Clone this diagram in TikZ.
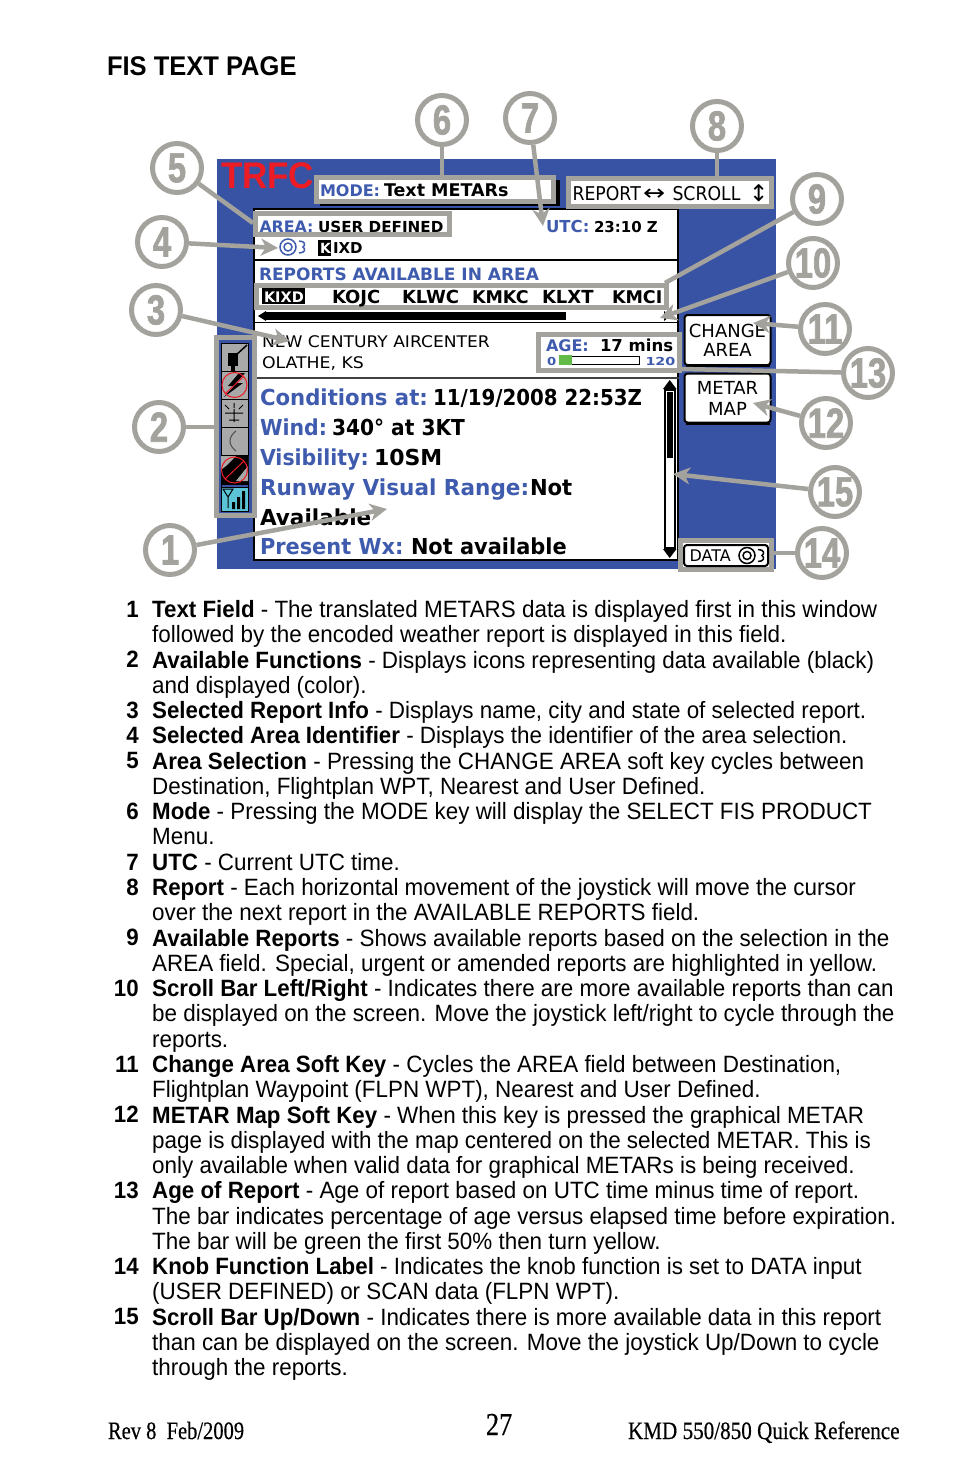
\documentclass[tikz,border=0pt]{standalone}
\usepackage{fontspec}
\setmainfont[FakeStretch=0.95,BoldFeatures={FakeStretch=0.945}]{Liberation Sans}
\newfontfamily\lcd{DejaVu Sans}
\newfontfamily\foot[FakeBold=0.4]{Liberation Serif}
\newfontfamily\cfont[FakeStretch=0.78,BoldFeatures={FakeStretch=0.78,FakeBold=1.6}]{Liberation Sans}
\usetikzlibrary{arrows.meta}
\definecolor{callgray}{HTML}{A3A29D}
\definecolor{panelblue}{HTML}{3953A4}
\definecolor{lcdblue}{HTML}{3F5BAE}
\definecolor{trfcred}{HTML}{ED1C24}
\definecolor{iconbg}{HTML}{A9A9A9}
\definecolor{sigcyan}{HTML}{5BC4D6}
\definecolor{agegreen}{HTML}{62BB46}
\newcommand{\fs}[1]{\fontsize{#1}{#1}\selectfont}
\newcommand{\fitx}[2]{\scalebox{#1}[1]{#2}}
\newcommand{\cnum}[1]{{\cfont\bfseries\fontsize{42}{42}\selectfont #1}}
\newcommand{\legenditem}[3]{%
  \node[legnum] (n#1) at (139,#2-0.7) {#1};
  \node[legbody] (b#1) at (152,#2-18.39) {\strut #3};}
\tikzset{
  x=1pt,y=-1pt,
  tt/.style={anchor=base west,inner sep=0pt,outer sep=0pt},
  legnum/.style={anchor=base east,inner sep=0pt,font=\fontsize{23.6}{25.27}\selectfont\bfseries},
  legbody/.style={anchor=north west,inner sep=0pt,align=left,font=\fontsize{23.6}{25.27}\selectfont},
  callcircle/.style={circle,draw=callgray,line width=5pt,fill=white,minimum size=49pt,inner sep=0pt,outer sep=2.5pt,text=callgray},
  callbox/.style={draw=callgray,line width=5pt,inner sep=0pt,outer sep=0pt},
  softkey/.style={draw=black,fill=white,line width=2pt,rounded corners=3pt,inner sep=0pt,outer sep=0pt,align=center},
  conn/.style={draw=callgray,line width=4.5pt},
  tipconn/.style={conn,-{Stealth[length=17pt,width=17pt,inset=5pt]}},
}
\begin{document}
\begin{tikzpicture}
\useasboundingbox (0,0) rectangle (954,1475);
\fill[white] (0,0) rectangle (954,1475);
\node[tt,font=\fontsize{27}{27}\selectfont\bfseries] (title) at (107,75) {FIS TEXT PAGE};

% panel
\fill[panelblue] (217,159) rectangle (776,569);
\fill[white] (254,209) rectangle (678,560);
\draw[black,line width=2pt] (678,209) -- (254,209) -- (254,560) -- (678,560) -- (678,209);
\draw[black,line width=1.5pt] (255,260) -- (678,260);
\draw[black!75,line width=2pt] (257,378) -- (679,378);
\node[tt,text=trfcred,font=\fontsize{37}{37}\selectfont\bfseries] (trfc) at (221,188) {TRFC};

% mode
\fill[black] (320,180) rectangle (560,206);
\node[callbox,fill=white,minimum width=237pt,minimum height=24pt] (modebox) at (435,189) {};
\node[tt,text=lcdblue,font=\lcd\bfseries\fs{16}] (lmode) at (320,196) {MODE:};
\node[tt,font=\lcd\bfseries\fs{17.5}] (vmode) at (384,196) {Text METARs};
\node[callbox,fill=white,minimum width=203pt,minimum height=28pt] (reportbox) at (670,192.5) {};
\node[tt,font=\lcd\fs{19}] (lreport) at (572.5,200.5) {\fitx{0.91}{REPORT}};
\node[tt,font=\lcd\fs{22}] (larrow) at (643,200.5) {\fitx{1.2}{↔}};
\node[tt,font=\lcd\fs{19}] (lscroll) at (672.5,200.5) {\fitx{0.91}{SCROLL}};
\node[tt,font=\lcd\fs{23}] (lud) at (749,201) {↕};
\node[tt,text=lcdblue,font=\lcd\bfseries\fs{16.5}] (lutc) at (546,232) {UTC:};
\node[tt,font=\lcd\bfseries\fs{15}] (vutc) at (594,232) {23:10 Z};
% knob icon
\draw[lcdblue,line width=1.5pt] (288,247) circle (8) (288,247) circle (4);
\draw[lcdblue,line width=1.5pt] (299,241) .. controls (305,241) and (306,245) .. (303,247) .. controls (306,249) and (305,253) .. (299,253);
\fill[black] (318,240) rectangle (331,256);
\node[tt,text=white,font=\lcd\bfseries\fs{14}] (kk) at (320,253) {K};
\node[tt,font=\lcd\bfseries\fs{15}] (ixd) at (333,253) {IXD};
\node[tt,text=lcdblue,font=\lcd\bfseries\fs{17}] (lavail) at (259,280) {REPORTS AVAILABLE IN AREA};
% reports
\node[callbox,minimum width=410pt,minimum height=22pt] (reportsbox) at (461,296.5) {};
\fill[black] (262,288) rectangle (305,304);
\node[tt,text=white,font=\lcd\bfseries\fs{14.5}] (k1) at (264,302) {KIXD};
\node[tt,font=\lcd\bfseries\fs{18}] (k2) at (332,303) {KOJC};
\node[tt,font=\lcd\bfseries\fs{18}] (k3) at (402,303) {KLWC};
\node[tt,font=\lcd\bfseries\fs{17.5}] (k4) at (472,303) {KMKC};
\node[tt,font=\lcd\bfseries\fs{18}] (k5) at (542,303) {KLXT};
\node[tt,font=\lcd\bfseries\fs{17.5}] (k6) at (612,303) {KMCI};
% horizontal scroll bar
\fill[black] (266,312) rectangle (566,320);
\fill[black] (258,316) -- (266,311) -- (266,321) -- cycle;
\fill[black] (670,316) -- (664,311) -- (664,321) -- cycle;
\draw[black,line width=1.5pt] (255,322.5) -- (678,322.5);
% selected report
\node[tt,font=\lcd\fs{16}] (name) at (262,347) {\fitx{1.07}{NEW CENTURY AIRCENTER}};
\node[tt,font=\lcd\fs{16}] (city) at (262,368.5) {\fitx{1.08}{OLATHE, KS}};
% age
\fill[white] (536,332) rectangle (682,373);
\node[callbox,minimum width=141pt,minimum height=36pt] (agebox) at (609,352.5) {};
\node[tt,text=lcdblue,font=\lcd\bfseries\fs{16}] (lage) at (546,351) {AGE:};
\node[tt,font=\lcd\bfseries\fs{16.5}] (vage) at (600,351) {17 mins};
\node[tt,text=lcdblue,font=\lcd\bfseries\fs{11}] (a0) at (547,365) {\fitx{1.2}{0}};
\draw[black,line width=1pt] (559,356) rectangle (639,364);
\fill[agegreen] (559,355) rectangle (572,364.5);
\node[tt,text=lcdblue,font=\lcd\bfseries\fs{11}] (a120) at (645.5,365) {\fitx{1.3}{120}};
% data field
\node[tt,text=lcdblue,font=\lcd\bfseries\fs{22}] (l1) at (260,405) {\fitx{0.965}{Conditions at:}};
\node[tt,font=\lcd\bfseries\fs{22}] (v1) at (433,405) {\fitx{0.9}{11/19/2008 22:53Z}};
\node[tt,text=lcdblue,font=\lcd\bfseries\fs{22}] (l2) at (260,435) {\fitx{0.93}{Wind:}};
\node[tt,font=\lcd\bfseries\fs{22}] (v2) at (332,435) {\fitx{0.917}{340° at 3KT}};
\node[tt,text=lcdblue,font=\lcd\bfseries\fs{22}] (l3) at (260,465) {\fitx{0.93}{Visibility:}};
\node[tt,font=\lcd\bfseries\fs{22}] (v3) at (374,465) {10SM};
\node[tt,text=lcdblue,font=\lcd\bfseries\fs{22}] (l4) at (260,495) {\fitx{0.98}{Runway Visual Range:}};
\node[tt,font=\lcd\bfseries\fs{22}] (v4) at (530,495) {\fitx{0.96}{Not}};
\node[tt,font=\lcd\bfseries\fs{22}] (v4b) at (260,525) {\fitx{0.98}{Available}};
\node[tt,text=lcdblue,font=\lcd\bfseries\fs{22}] (l6) at (260,554) {\fitx{0.95}{Present Wx:}};
\node[tt,font=\lcd\bfseries\fs{22}] (v6) at (411,554) {\fitx{0.95}{Not available}};
% vertical scroll bar
\draw[black,line width=2pt] (664.5,390) rectangle (675,548);
\fill[black] (669.7,380) -- (663,389) -- (676.5,389) -- cycle;
\fill[black] (669.7,558) -- (663,549) -- (676.5,549) -- cycle;
\fill[black] (667,392) rectangle (673,458);
\coordinate (scrollv) at (673,474);
% soft keys
\node[softkey,minimum width=86pt,minimum height=50pt,font=\lcd\fs{18},text depth=0pt] (change) at (727.5,340) {CHANGE\\[1pt]AREA};
\draw[black,line width=2pt] (686,365.5) -- (770,365.5);
\node[softkey,minimum width=86pt,minimum height=49pt,font=\lcd\fs{18}] (metar) at (727.5,398) {METAR\\[3pt]MAP};
\draw[black,line width=2pt] (686,423.5) -- (770,423.5);
\node[callbox,fill=white,minimum width=91pt,minimum height=29pt] (databox) at (726,555) {};
\draw[softkey] (684,545) rectangle (768,566);
\node[tt,font=\lcd\fs{16}] (data) at (689.5,561.7) {DATA};
\draw[black,line width=1.5pt] (747,555.5) circle (8) (747,555.5) circle (4);
\draw[black,line width=1.5pt] (758,549.5) .. controls (764,549.5) and (765,553.5) .. (762,555.5) .. controls (765,557.5) and (764,561.5) .. (758,561.5);
% area box
\fill[white] (257,214) rectangle (449,234);
\node[tt,text=lcdblue,font=\lcd\bfseries\fs{15.8}] (larea) at (259.5,232) {AREA:};
\node[tt,font=\lcd\bfseries\fs{15.2}] (varea) at (318,232) {USER DEFINED};
\node[callbox,minimum width=194pt,minimum height=21pt] (areabox) at (352.5,224) {};
% functions column
\fill[panelblue] (217,338) rectangle (254,515);
\fill[iconbg] (221,343) rectangle (248,455);
\foreach \yy in {343,371,399,427,455} \draw[black,line width=1pt] (221,\yy) -- (248,\yy);
\draw[black,line width=1pt] (221,343) rectangle (248,511);
\fill[black] (228,353) rectangle (238,366);
\fill[black] (231,366) rectangle (235,371);
\draw[black,line width=1.5pt] (235,356) -- (247,345);
\fill[black] (239,373) -- (228,386) -- (234,386) -- (224,397) -- (243,383) -- (236,383) -- (245,373) -- cycle;
\draw[trfcred,line width=1pt] (234.5,385) circle (12.5) (225,394) -- (244,376);
\draw[black,line width=1pt] (225,405) -- (229,409) (243,405) -- (239,409) (234,403) -- (234,408) (225,413) -- (243,413) (234,409) -- (234,422) (229,420) -- (239,420);
\draw[black!70,line width=1pt] (236,431) .. controls (228,437) and (228,445) .. (236,451);
\fill[black] (221,455) rectangle (248,485);
\fill[iconbg] (221,456) -- (236,456) -- (226,466) -- (221,470) -- cycle;
\fill[iconbg] (248,456) -- (248,466) -- (236,481) -- (248,481) -- (248,456) -- cycle;
\draw[trfcred,line width=1pt] (234.5,470) circle (13) (225,479) -- (244,461);
\fill[sigcyan] (221,487) rectangle (248,511);
\draw[black,line width=1pt] (221,487) rectangle (248,511);
\draw[black,line width=1pt] (223,489) -- (233,489) -- (228,497) -- cycle (228,497) -- (228,508);
\fill[black] (232,502) rectangle (235,509) (237,497) rectangle (240,509) (242,491) rectangle (245,509);
\node[callbox,minimum width=38pt,minimum height=178pt] (funcbox) at (235.5,426.5) {};

% callouts
\node[callcircle] (c1) at (170,550) {\cnum{1}};
\node[callcircle] (c2) at (159,427) {\cnum{2}};
\node[callcircle] (c3) at (156,310) {\cnum{3}};
\node[callcircle] (c4) at (162,242) {\cnum{4}};
\node[callcircle] (c5) at (177,168) {\cnum{5}};
\node[callcircle] (c6) at (442,120) {\cnum{6}};
\node[callcircle] (c7) at (530,118) {\cnum{7}};
\node[callcircle] (c8) at (717,126) {\cnum{8}};
\node[callcircle] (c9) at (817,199) {\cnum{9}};
\node[callcircle] (c10) at (813,263) {\cnum{10}};
\node[callcircle] (c11) at (825,329) {\cnum{11}};
\node[callcircle] (c12) at (826,423) {\cnum{12}};
\node[callcircle] (c13) at (868,373) {\cnum{13}};
\node[callcircle] (c14) at (822,553) {\cnum{14}};
\node[callcircle] (c15) at (835,492) {\cnum{15}};

\coordinate (tip1) at (387,509);
\coordinate (tip3) at (290,341);
\coordinate (tip4) at (278,248);
\coordinate (tip7) at (543,226);
\coordinate (tip10) at (660,318);
\coordinate (tip11) at (753,323);
\coordinate (tip12) at (753,403);
\coordinate (end5) at (253,223);
\coordinate (end9) at (665,283);
\coordinate (end13) at (682,369);

\draw[tipconn] (c1) -- (tip1);
\draw[conn] (c2) -- (funcbox.west |- c2);
\draw[tipconn] (c3) -- (tip3);
\draw[tipconn] (c4) -- (tip4);
\draw[conn] (c5) -- (end5);
\draw[conn] (c6) -- (c6 |- modebox.north);
\draw[tipconn] (c7) -- (tip7);
\draw[conn] (c8) -- (c8 |- reportbox.north);
\draw[conn] (c9) -- (end9);
\draw[tipconn] (c10) -- (tip10);
\draw[tipconn] (c11) -- (tip11);
\draw[tipconn] (c12) -- (tip12);
\draw[conn] (c13) -- (end13);
\draw[conn] (c14) -- (databox.east |- c14);
\draw[tipconn] (c15) -- (scrollv);

% legend
\legenditem{1}{618}{\textbf{Text Field} - The translated METARS data is displayed first in this window\\followed by the encoded weather report is displayed in this field.}
\legenditem{2}{668.5}{\textbf{Available Functions} - Displays icons representing data available (black)\\and displayed (color).}
\legenditem{3}{719}{\textbf{Selected Report Info} - Displays name, city and state of selected report.}
\legenditem{4}{744.3}{\textbf{Selected Area Identifier} - Displays the identifier of the area selection.}
\legenditem{5}{769.6}{\textbf{Area Selection} - Pressing the CHANGE AREA soft key cycles between\\Destination, Flightplan WPT, Nearest and User Defined.}
\legenditem{6}{820.1}{\textbf{Mode} - Pressing the MODE key will display the SELECT FIS PRODUCT\\Menu.}
\legenditem{7}{870.7}{\textbf{UTC} - Current UTC time.}
\legenditem{8}{896}{\textbf{Report} - Each horizontal movement of the joystick will move the cursor\\over the next report in the AVAILABLE REPORTS field.}
\legenditem{9}{946.5}{\textbf{Available Reports} - Shows available reports based on the selection in the\\AREA field. Special, urgent or amended reports are highlighted in yellow.}
\legenditem{10}{997}{\textbf{Scroll Bar Left/Right} - Indicates there are more available reports than can\\be displayed on the screen. Move the joystick left/right to cycle through the\\reports.}
\legenditem{11}{1073}{\textbf{Change Area Soft Key} - Cycles the AREA field between Destination,\\Flightplan Waypoint (FLPN WPT), Nearest and User Defined.}
\legenditem{12}{1123.5}{\textbf{METAR Map Soft Key} - When this key is pressed the graphical METAR\\page is displayed with the map centered on the selected METAR. This is\\only available when valid data for graphical METARs is being received.}
\legenditem{13}{1199.3}{\textbf{Age of Report} - Age of report based on UTC time minus time of report.\\The bar indicates percentage of age versus elapsed time before expiration.\\The bar will be green the first 50\% then turn yellow.}
\legenditem{14}{1275}{\textbf{Knob Function Label} - Indicates the knob function is set to DATA input\\(USER DEFINED) or SCAN data (FLPN WPT).}
\legenditem{15}{1325.6}{\textbf{Scroll Bar Up/Down} - Indicates there is more available data in this report\\than can be displayed on the screen. Move the joystick Up/Down to cycle\\through the reports.}

% footer
\node[tt] (f1) at (108,1439) {\scalebox{0.82}[1]{\foot\fontsize{25}{25}\selectfont Rev 8\ \ Feb/2009}};
\node[tt] (f2) at (486,1435) {\scalebox{0.82}[1]{\foot\fontsize{32}{32}\selectfont 27}};
\node[tt] (f3) at (628,1439) {\scalebox{0.845}[1]{\foot\fontsize{25}{25}\selectfont KMD 550/850 Quick Reference}};
\end{tikzpicture}
\end{document}
